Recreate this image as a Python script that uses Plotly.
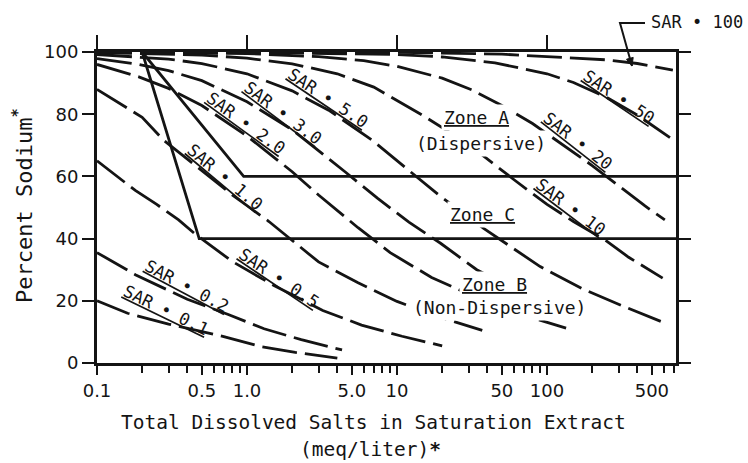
import math
import plotly.graph_objects as go

# ---------------- data ----------------
sar_names = ["0.1", "0.2", "0.5", "1.0", "2.0", "3.0", "5.0", "10", "20", "50", "100"]

tds_sar_0_1 = [0.1, 0.16, 0.3, 0.7, 1.25, 2.1, 4.0]
na_sar_0_1 = [20, 16, 12.5, 8.5, 5.2, 3.4, 1.6]

tds_sar_0_2 = [0.1, 0.18, 0.4, 0.75, 1.3, 2.3, 4.3]
na_sar_0_2 = [35.5, 28.4, 20.5, 15.6, 11, 7.5, 4.2]

tds_sar_0_5 = [0.1, 0.18, 0.25, 0.35, 0.45, 0.8, 1.5, 3.2, 5.8, 10.8, 20]
na_sar_0_5 = [65, 55.5, 51, 46, 41.5, 32.6, 25, 16.9, 12.2, 8.6, 5.5]

tds_sar_1 = [0.1, 0.2, 0.28, 0.5, 0.8, 1.4, 3, 5.5, 10, 20, 37]
na_sar_1 = [88, 79, 71.5, 62, 54, 45.5, 32.5, 25.8, 19.8, 14.5, 10.5]

tds_sar_2 = [0.1, 0.19, 0.3, 0.5, 1, 2, 3, 5.5, 9, 17, 40, 80, 134]
na_sar_2 = [96, 92, 88.3, 82.8, 73, 61.5, 54, 43.5, 35.5, 27.5, 19.5, 14.5, 11.2]

tds_sar_3 = [0.1, 0.19, 0.3, 0.5, 1, 2, 4.5, 7.4, 12, 19.5, 34, 55]
na_sar_3 = [97.9, 96, 94, 90.8, 84, 75, 61.5, 53, 45.3, 38.5, 30, 24.8]

tds_sar_5 = [0.1, 0.3, 0.5, 1, 2, 3.5, 6.8, 11.3, 19, 38, 90, 170, 320, 600]
na_sar_5 = [99.2, 97.7, 96.3, 93, 87.5, 81.3, 71.7, 63, 54, 43.2, 31, 24, 18.3, 13]

tds_sar_10 = [0.1, 0.5, 1, 2, 4, 7, 15, 30, 60, 100, 150, 245, 350, 590]
na_sar_10 = [99.8, 99, 98, 96.2, 93, 88.7, 79.5, 70.3, 59, 51, 45.5, 39.5, 34, 27.3]

tds_sar_20 = [0.1, 1, 3, 6, 10, 20, 31.6, 50, 80, 130, 200, 300, 450, 610]
na_sar_20 = [100, 99.5, 98.5, 97.2, 95.4, 91.6, 87.8, 82.8, 77, 70, 63.5, 57, 50.5, 46]

tds_sar_50 = [0.1, 1, 10, 20, 45, 100, 150, 250, 400, 660]
na_sar_50 = [100, 99.9, 99.2, 98.4, 96.5, 93, 90.2, 85.4, 79.7, 72.5]

tds_sar_100 = [0.1, 10, 50, 100, 245, 400, 690]
na_sar_100 = [100, 99.9, 99.3, 98.6, 97.5, 96.3, 94.2]

# zone boundaries
zone_a_tds = [0.2, 0.95, 724]
zone_a_na = [100, 60, 60]
zone_b_tds = [0.2, 0.48, 724]
zone_b_na = [100, 40, 40]

zone_names = ["Zone A", "(Dispersive)", "Zone C", "Zone B", "(Non-Dispersive)"]

x_tick_vals = [0.1, 0.5, 1, 5, 10, 50, 100, 500]
x_tick_text = ["0.1", "0.5", "1.0", "5.0", "10", "50", "100", "500"]
x_minor_vals = [0.2, 0.3, 0.4, 0.6, 0.7, 0.8, 0.9, 2, 3, 4, 6, 7, 8, 9,
                20, 30, 40, 60, 70, 80, 90, 200, 300, 400, 600, 700]
x_top_ticks = [0.1, 1, 10, 100]
y_tick_vals = [0, 20, 40, 60, 80, 100]

# ---------------- layout positions ----------------
X_MAX = 724
X_RANGE = [-1, math.log10(X_MAX)]
INK = "#141414"
MONO = "DejaVu Sans Mono"
SANS = "DejaVu Sans"

# label placement: (log10 x, y, angle)
sar_label_pos = [(-0.54, 17.0, 26), (-0.40, 24.8, 28), (0.213, 27.3, 34),
                 (-0.147, 59.8, 40), (-0.007, 77.2, 36), (0.24, 80.4, 37),
                 (0.54, 85.2, 34), (2.16, 50.2, 37), (2.207, 71.4, 38),
                 (2.48, 85.5, 34)]
zone_label_pos = [(1.527, 78.8, True), (1.56, 70.7, False), (1.573, 47.9, True),
                  (1.653, 25.4, True), (1.68, 17.7, False)]

curves = [
    (tds_sar_0_1, na_sar_0_1), (tds_sar_0_2, na_sar_0_2), (tds_sar_0_5, na_sar_0_5),
    (tds_sar_1, na_sar_1), (tds_sar_2, na_sar_2), (tds_sar_3, na_sar_3),
    (tds_sar_5, na_sar_5), (tds_sar_10, na_sar_10), (tds_sar_20, na_sar_20),
    (tds_sar_50, na_sar_50), (tds_sar_100, na_sar_100),
]

fig = go.Figure()
for tds, na in curves:
    fig.add_trace(go.Scatter(x=tds, y=na, mode="lines",
                             line=dict(color=INK, width=2.8, dash="35px,8px"),
                             hoverinfo="skip", showlegend=False))
for tds, na in [(zone_a_tds, zone_a_na), (zone_b_tds, zone_b_na)]:
    fig.add_trace(go.Scatter(x=tds, y=na, mode="lines",
                             line=dict(color=INK, width=2.8),
                             hoverinfo="skip", showlegend=False))
# invisible trace so that the top axis is drawn
fig.add_trace(go.Scatter(x=[1], y=[50], xaxis="x2", mode="markers",
                         marker=dict(opacity=0), hoverinfo="skip", showlegend=False))

annotations = []
for name, (lx, ly, ang) in zip(sar_names[:10], sar_label_pos):
    annotations.append(dict(x=lx, y=ly, xref="x", yref="y", showarrow=False,
                            xanchor="center", yanchor="middle",
                            text="<u>SAR \u2022 " + name + "</u>", textangle=ang,
                            font=dict(family=MONO, size=17, color=INK)))
for name, (lx, ly, ul) in zip(zone_names, zone_label_pos):
    annotations.append(dict(x=lx, y=ly, xref="x", yref="y", showarrow=False,
                            xanchor="center", yanchor="middle",
                            text=("<u>" + name + "</u>") if ul else name,
                            bgcolor="white", borderpad=2,
                            font=dict(family=MONO, size=18, color=INK)))

# SAR = 100 label
annotations.append(dict(x=1.0363, y=1.0965, xref="paper", yref="paper", showarrow=False,
                        xanchor="center", yanchor="middle",
                        text="SAR \u2022 " + sar_names[10],
                        font=dict(family=MONO, size=17, color=INK)))

# axis titles
annotations.append(dict(x=0.4784, y=-0.19, xref="paper", yref="paper", showarrow=False,
                        xanchor="center", yanchor="middle",
                        text="Total Dissolved Salts in Saturation Extract",
                        font=dict(family=MONO, size=19.5, color=INK)))
annotations.append(dict(x=0.4732, y=-0.277, xref="paper", yref="paper", showarrow=False,
                        xanchor="center", yanchor="middle",
                        text="(meq/liter)<b>*</b>",
                        font=dict(family=MONO, size=19.5, color=INK)))
annotations.append(dict(x=-0.128, y=0.508, xref="paper", yref="paper", showarrow=False,
                        xanchor="center", yanchor="middle",
                        text="Percent Sodium<sup><b>*</b></sup>", textangle=-90,
                        font=dict(family=MONO, size=22, color=INK)))

# leader line for SAR = 100 (paper coordinates)
shapes = [
    dict(type="path", xref="paper", yref="paper",
         path="M 0.94646 1.09325 L 0.90328 1.09325 L 0.92401 0.95498",
         line=dict(color=INK, width=2)),
    dict(type="path", xref="paper", yref="paper",
         path="M 0.92401 0.95498 L 0.92608 0.98264 L 0.91451 0.97685 Z",
         line=dict(color=INK, width=1), fillcolor=INK),
]

fig.update_layout(
    width=748, height=463,
    margin=dict(l=97, r=72, t=52, b=100),
    paper_bgcolor="white", plot_bgcolor="white",
    showlegend=False,
    xaxis=dict(type="log", range=X_RANGE, tickmode="array", tickvals=x_tick_vals,
               ticktext=x_tick_text, ticks="outside", ticklen=9, tickwidth=2,
               tickcolor=INK, showline=True, linewidth=3, linecolor=INK,
               showgrid=False, zeroline=False, mirror=False,
               tickfont=dict(family=SANS, size=18, color=INK),
               minor=dict(tickvals=x_minor_vals, ticks="outside", ticklen=7,
                          tickwidth=2, tickcolor=INK, showgrid=False)),
    xaxis2=dict(type="log", range=X_RANGE, overlaying="x", side="top", anchor="y",
                tickmode="array", tickvals=x_top_ticks, ticks="outside", ticklen=14,
                tickwidth=2, tickcolor=INK, showticklabels=False, showline=True,
                linewidth=3, linecolor=INK, showgrid=False, zeroline=False),
    yaxis=dict(range=[0, 100], tickmode="array", tickvals=y_tick_vals,
               ticks="outside", ticklen=12, tickwidth=2, tickcolor=INK,
               mirror="ticks", showline=True, linewidth=3, linecolor=INK,
               showgrid=False, zeroline=False,
               tickfont=dict(family=SANS, size=18, color=INK)),
    annotations=annotations,
    shapes=shapes,
)

fig.write_html("out.html", config={"displayModeBar": False},
               post_script="document.body.style.margin='0px';")
